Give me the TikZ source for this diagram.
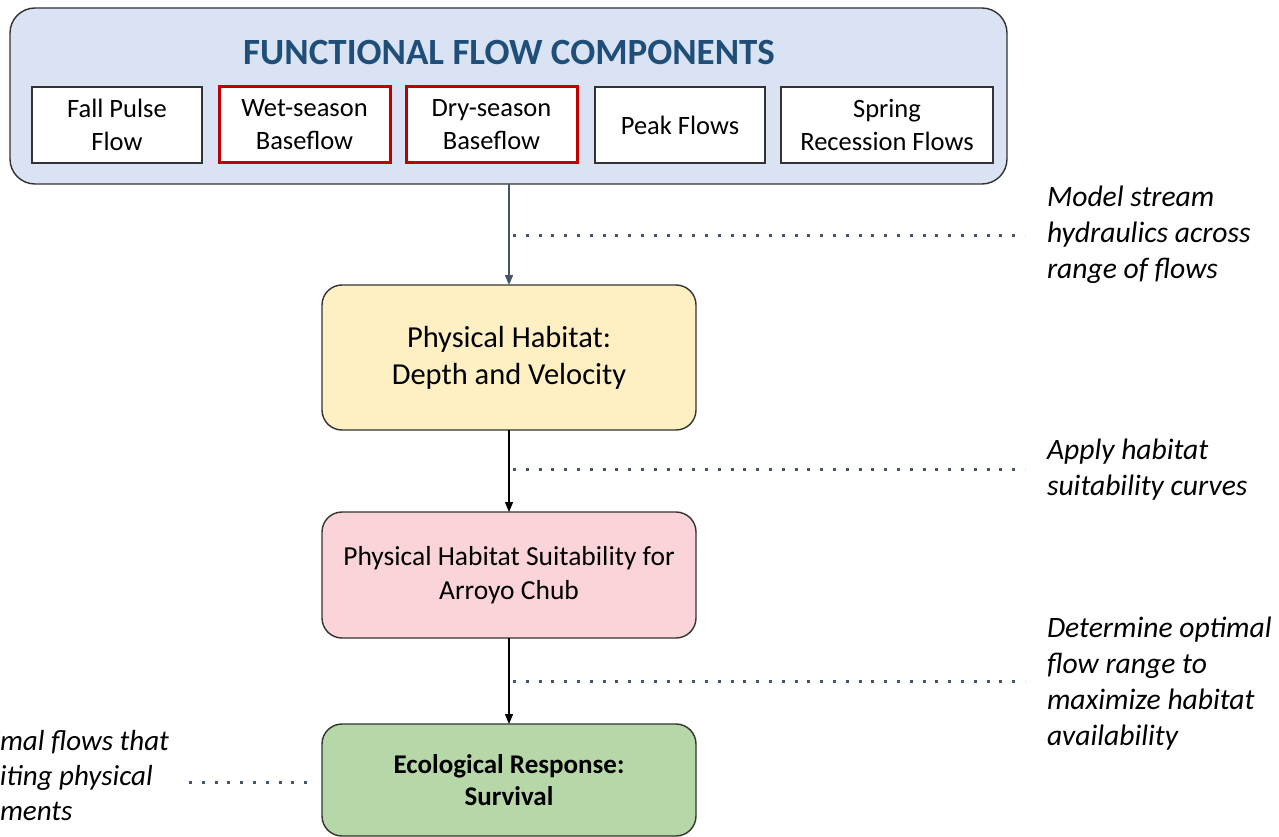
\documentclass[tikz,border=0pt]{standalone}
\usepackage{fontspec}
\setmainfont{Carlito}
\usetikzlibrary{arrows.meta}
\definecolor{outerfill}{HTML}{DAE3F3}
\definecolor{titleblue}{HTML}{1F4E79}
\definecolor{boxred}{HTML}{C00000}
\definecolor{yellowfill}{HTML}{FFF0C4}
\definecolor{pinkfill}{HTML}{FAD4D8}
\definecolor{greenfill}{HTML}{B6D7A8}
\definecolor{slate}{HTML}{44546A}
\definecolor{edge}{HTML}{333333}
\begin{document}
\begin{tikzpicture}[x=1pt,y=-1pt,
  every node/.style={inner sep=0pt, outer sep=0pt},
  compbox/.style={draw=edge, line width=1.4pt, fill=white, minimum height=76pt, align=center, font=\fontsize{26.5}{33}\selectfont},
  redbox/.style={compbox, draw=boxred, line width=3pt},
  stagebox/.style={draw=edge, line width=1.4pt, rounded corners=20pt, minimum width=374pt, align=center},
  note/.style={anchor=west, align=left, font=\fontsize{29.6}{35.8}\selectfont\itshape},
  dotline/.style={slate, line width=3pt, dash pattern=on 3pt off 9.8pt},
  flowarrow/.style={line width=1.4pt, -{Triangle[length=10pt,width=8pt]}}
]
\useasboundingbox (0,0) rectangle (1279,837);
\clip (0,0) rectangle (1279,837);
\fill[white] (0,0) rectangle (1279,837);

% top container
\node[draw=edge, line width=1.4pt, fill=outerfill, rounded corners=25pt, minimum width=997pt, minimum height=176pt] (outer) at (508.5,96) {};
\node[font=\fontsize{37}{40}\selectfont\bfseries, text=titleblue] (title) at (509,53) {FUNCTIONAL FLOW COMPONENTS};

\node[compbox, minimum width=170pt] (fall) at (117,125) {Fall Pulse\\Flow};
\node[redbox, minimum width=171pt] (wet) at (304.5,125) {Wet-season\\Baseflow};
\node[redbox, minimum width=171pt] (dry) at (491.5,125) {Dry-season\\Baseflow};
\node[compbox, minimum width=170pt] (peak) at (680,125) {Peak Flows};
\node[compbox, minimum width=212pt] (spring) at (887,125) {Spring\\Recession Flows};

% stages
\node[stagebox, fill=yellowfill, minimum height=145pt, font=\fontsize{30.5}{37}\selectfont] (phys) at (509,357.5) {Physical Habitat:\\Depth and Velocity};
\node[stagebox, fill=pinkfill, minimum height=126pt, font=\fontsize{27.5}{34}\selectfont] (suit) at (509,575) {Physical Habitat Suitability for\\Arroyo Chub};
\node[stagebox, fill=greenfill, minimum height=112pt, font=\fontsize{27}{32.5}\selectfont\bfseries] (eco) at (509,780) {Ecological Response:\\Survival};

% arrows
\draw[flowarrow, slate] (phys.north |- outer.south) -- (phys.north);
\draw[flowarrow, black] (phys.south) -- (suit.north);
\draw[flowarrow, black] (suit.south) -- (eco.north);

% notes
\node[note] (n1) at (1047,235) {Model stream\\hydraulics across\\range of flows};
\node[note] (n2) at (1047,469.5) {Apply habitat\\suitability curves};
\node[note] (n3) at (1047,683.5) {Determine optimal\\flow range to\\maximize habitat\\availability};
\node[note, font=\fontsize{29}{35}\selectfont\itshape] (n4) at (0,778) {\llap{Determine opti}mal flows that\\\llap{meet lim}iting physical\\\llap{require}ments};

\coordinate (d1s) at (513,235);   \coordinate (d1e) at (1025,235);
\coordinate (d2s) at (513,469);   \coordinate (d2e) at (1025,469);
\coordinate (d3s) at (513,681);   \coordinate (d3e) at (1025,681);
\coordinate (d4s) at (189,782);   \coordinate (d4e) at (310,782);
\draw[dotline] (d1s) -- (d1e);
\draw[dotline] (d2s) -- (d2e);
\draw[dotline] (d3s) -- (d3e);
\draw[dotline] (d4s) -- (d4e);
\end{tikzpicture}
\end{document}
